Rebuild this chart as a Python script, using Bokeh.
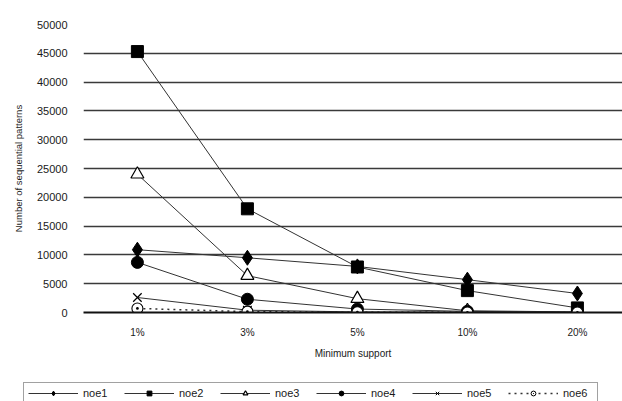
from bokeh.plotting import figure
from bokeh.models import FixedTicker, Legend, LegendItem, Range1d
from bokeh.layouts import column, row
from bokeh.embed import file_html
from bokeh.resources import INLINE

categories = ["1%", "3%", "5%", "10%", "20%"]
noe1 = [10900, 9500, 8000, 5700, 3300]
noe2 = [45300, 18000, 7900, 3800, 800]
noe3 = [24000, 6400, 2400, 300, 100]
noe4 = [8700, 2300, 600, 200, 50]
noe5 = [2600, 400, 100, 50, 20]
noe6 = [700, 150, 50, 20, 10]
series_names = ["noe1", "noe2", "noe3", "noe4", "noe5", "noe6"]
y_ticks = list(range(0, 50001, 5000))

xs = list(range(len(categories)))
FONT = "Liberation Sans"

p = figure(width=622, height=370, output_backend="svg", toolbar_location=None,
           x_range=Range1d(-0.49, 4.41), y_range=Range1d(0, 50000),
           min_border_left=83, min_border_right=0, min_border_top=24,
           min_border_bottom=58)
p.outline_line_color = None
p.background_fill_color = "white"
p.border_fill_color = "white"

p.xgrid.grid_line_color = None
p.ygrid.ticker = FixedTicker(ticks=y_ticks)
p.ygrid.grid_line_color = "#3a3a3a"
p.ygrid.grid_line_width = 1.6

p.yaxis.ticker = FixedTicker(ticks=y_ticks)
p.yaxis.axis_line_color = None
p.yaxis.major_tick_line_color = None
p.yaxis.minor_tick_line_color = None
p.yaxis.major_label_standoff = 10
p.yaxis.major_label_text_font = FONT
p.yaxis.major_label_text_font_size = "11px"
p.yaxis.major_label_text_color = "#1a1a1a"
p.yaxis.axis_label = "Number of sequential patterns"
p.yaxis.axis_label_text_font = FONT
p.yaxis.axis_label_text_font_size = "9.5px"
p.yaxis.axis_label_text_font_style = "normal"
p.yaxis.axis_label_text_color = "#1a1a1a"
p.yaxis.axis_label_standoff = 10

p.xaxis.ticker = FixedTicker(ticks=xs)
p.xaxis.major_label_overrides = {i: c for i, c in zip(xs, categories)}
p.xaxis.axis_line_color = "#111111"
p.xaxis.axis_line_width = 2
p.xaxis.major_tick_line_color = None
p.xaxis.minor_tick_line_color = None
p.xaxis.major_label_standoff = 8
p.xaxis.major_label_text_font = FONT
p.xaxis.major_label_text_font_size = "10px"
p.xaxis.major_label_text_color = "#1a1a1a"
p.xaxis.axis_label = "Minimum support"
p.xaxis.axis_label_text_font = FONT
p.xaxis.axis_label_text_font_size = "10px"
p.xaxis.axis_label_text_font_style = "normal"
p.xaxis.axis_label_text_color = "#1a1a1a"
p.xaxis.axis_label_standoff = 7

# Legend-only figure below the chart (its data lies outside its view,
# so only the legend shows)
lg = figure(width=622, height=31, output_backend="svg", toolbar_location=None,
            x_range=Range1d(0, 4), y_range=Range1d(-2, -1),
            min_border_left=0, min_border_right=0, min_border_top=0,
            min_border_bottom=0, x_axis_location=None, y_axis_location=None)
lg.outline_line_color = None
lg.grid.grid_line_color = None

LC = "#333333"
specs = [
    (noe1, dict(marker="diamond", size=15, fill_color="black", line_color="black"),
     dict(marker="diamond", size=8, fill_color="black", line_color="black"), None),
    (noe2, dict(marker="square", size=12, fill_color="black", line_color="black"),
     dict(marker="square", size=7, fill_color="black", line_color="black"), None),
    (noe3, dict(marker="triangle", size=13, fill_color="white", line_color="black", line_width=1.2),
     dict(marker="triangle", size=8, fill_color="white", line_color="black", line_width=1.2), None),
    (noe4, dict(marker="circle", size=12, fill_color="black", line_color="black"),
     dict(marker="circle", size=7, fill_color="black", line_color="black"), None),
    (noe5, dict(marker="x", size=12, line_color="black", line_width=1.2),
     dict(marker="x", size=7, line_color="black", line_width=1), None),
    (noe6, dict(marker="circle_dot", size=11, fill_color="white", line_color="black", line_width=1.1),
     dict(marker="circle_dot", size=7, fill_color="white", line_color="black", line_width=1), "2 4"),
]

items = []
for name, (vals, big, small, dash) in zip(series_names, specs):
    lkw = dict(line_color=LC, line_width=1)
    if dash:
        lkw = dict(line_color=LC, line_width=1.5, line_dash=dash)
    p.line(xs, vals, **lkw)
    p.scatter(xs, vals, **big)
    lr = lg.line(xs, vals, **lkw)
    sr = lg.scatter(xs, vals, **small)
    items.append(LegendItem(label=name, renderers=[lr, sr]))

legend = Legend(items=items, orientation="horizontal", location=(23, -3),
                glyph_width=50, glyph_height=12, label_standoff=5, spacing=11,
                label_width=30, padding=4, margin=0,
                label_text_font=FONT, label_text_font_size="11px",
                label_text_color="#1a1a1a",
                border_line_color="#444444", border_line_width=1.8,
                background_fill_color="white", background_fill_alpha=1)
lg.add_layout(legend, "center")

layout = column(p, row(lg), spacing=0)
open("out.html", "w").write(file_html(layout, INLINE))
